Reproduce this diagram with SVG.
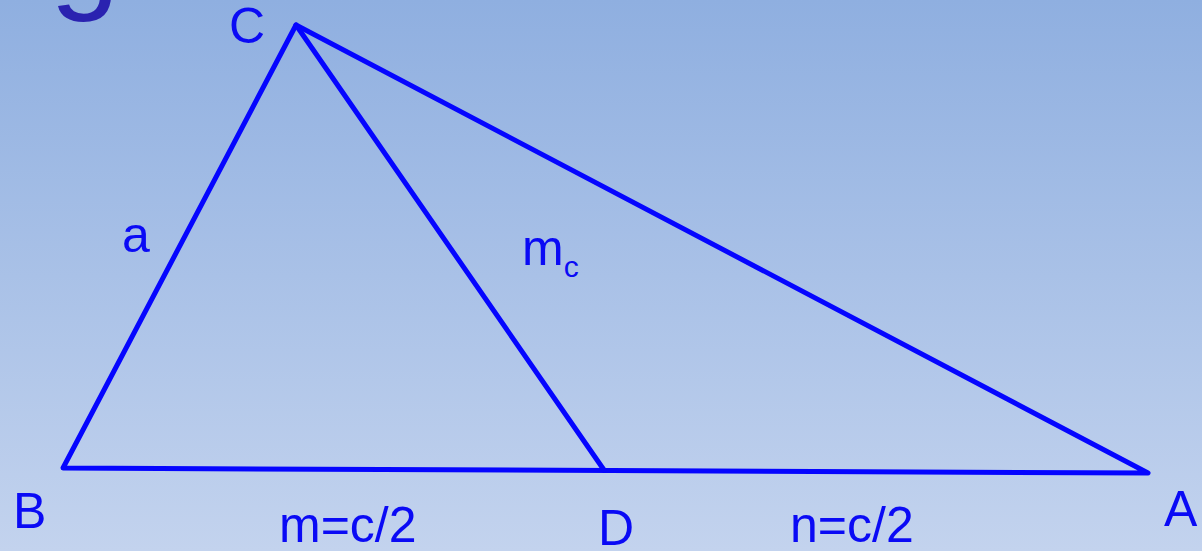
<svg xmlns="http://www.w3.org/2000/svg" width="1202" height="551" viewBox="0 0 1202 551">
<defs>
<linearGradient id="bg" x1="0" y1="0" x2="0" y2="1">
<stop offset="0" stop-color="#8fafe0"/>
<stop offset="1" stop-color="#c3d3ee"/>
</linearGradient>
</defs>
<style>
.ln{stroke:#0505ff;stroke-width:5;fill:none;stroke-linecap:round;stroke-linejoin:round}
.lb{font-family:"Liberation Sans",Arial,sans-serif;font-size:50px;fill:#0a0af5}
</style>
<rect width="1202" height="551" fill="url(#bg)"/>
<text x="50" y="-4" font-family="Liberation Sans, Arial, sans-serif" font-size="125" fill="#2a22b0">g</text>
<g id="connectors">
<path class="ln" d="M63,468 L296,25 L1148,473 Z"/>
<line class="ln" x1="296" y1="25" x2="604" y2="470"/>
</g>
<g id="C"><text class="lb" x="229" y="43">C</text></g>
<g id="B"><text class="lb" x="13" y="528">B</text></g>
<g id="D"><text class="lb" x="598" y="545">D</text></g>
<g id="A"><text class="lb" x="1164" y="526">A</text></g>
<g id="label-a"><text class="lb" x="122" y="252">a</text></g>
<g id="label-mc"><text class="lb" x="522" y="265">m<tspan font-size="30" dy="12">c</tspan></text></g>
<g id="label-m"><text class="lb" x="279" y="542">m=c/2</text></g>
<g id="label-n"><text class="lb" x="790" y="542">n=c/2</text></g>
</svg>
